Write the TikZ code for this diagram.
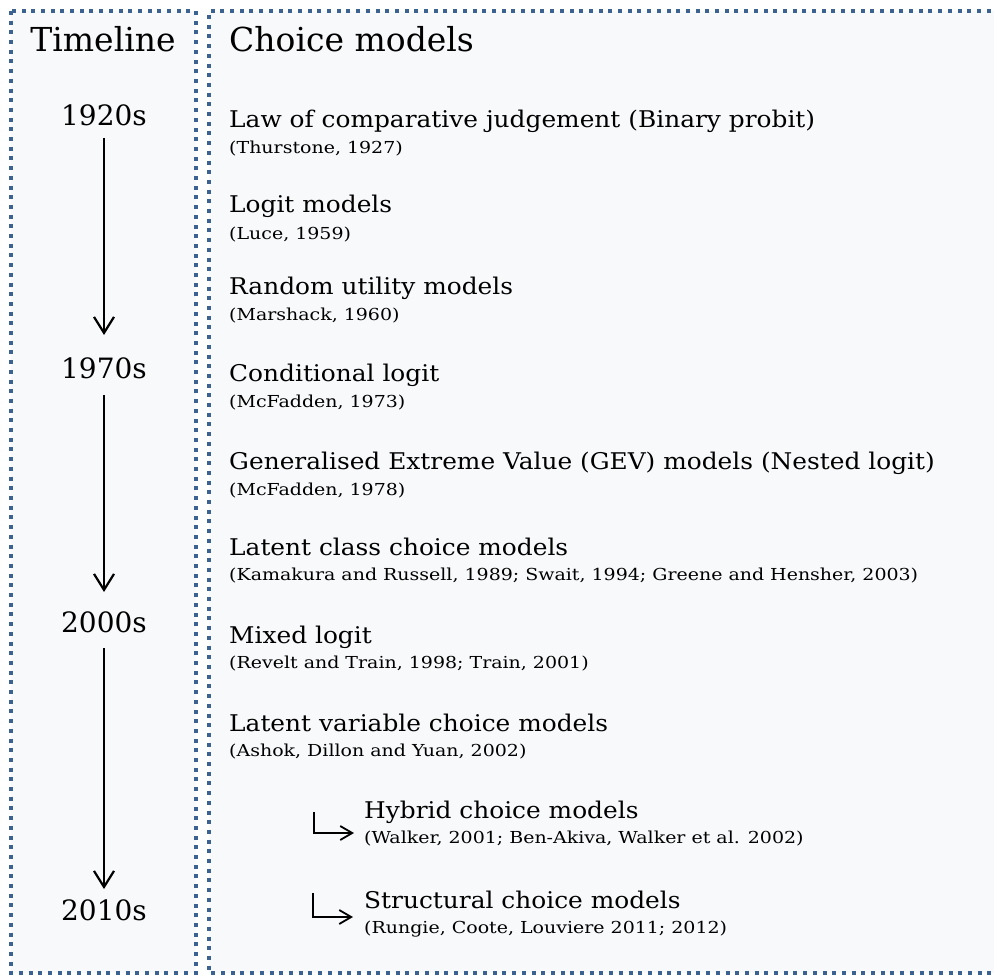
\documentclass[tikz,border=0pt]{standalone}
\usepackage{fontspec}
\setmainfont{DejaVu Serif}
\newfontfamily\itemfont[FakeStretch=1.08]{DejaVu Serif}
\newfontfamily\citefont[FakeStretch=1.15]{DejaVu Serif}
\usetikzlibrary{arrows.meta}
\definecolor{dotblue}{RGB}{60,98,146}
\definecolor{panel}{RGB}{248,249,251}
\begin{document}
\begin{tikzpicture}[x=1pt,y=-1pt,
 panelbox/.style={fill=panel,draw=dotblue,line width=4pt,dash pattern=on 4pt off 5.7pt},
 titletext/.style={font=\fontsize{33}{36}\selectfont,inner sep=0pt,anchor=base},
 yeartext/.style={font=\fontsize{28}{30}\selectfont,inner sep=0pt,anchor=base},
 itemtext/.style={font=\itemfont\fontsize{23}{26}\selectfont,inner sep=0pt,anchor=base west},
 citetext/.style={font=\citefont\fontsize{16.5}{19}\selectfont,inner sep=0pt,anchor=base west},
 timearrow/.style={line width=2.2pt,-{Straight Barb[length=16pt,width=20pt,line width=2.2pt]}},
 elbowarrow/.style={line width=1.8pt,-{Straight Barb[length=12pt,width=14pt,line width=1.8pt]}},
]
\useasboundingbox (0,0) rectangle (994,976);
\clip (0,0) rectangle (994,976);
\draw[panelbox] (11,11) rectangle (196,973);
\draw[panelbox] (1010,11) -- (209,11) -- (209,973) -- (1010,973);

\node[titletext] (tl) at (103,52) {Timeline};
\node[titletext,anchor=base west] (cm) at (229,52) {Choice models};

\node[yeartext] (y1920) at (104,126) {1920s};
\node[yeartext] (y1970) at (104,379) {1970s};
\node[yeartext] (y2000) at (104,632) {2000s};
\node[yeartext] (y2010) at (104,920) {2010s};

\draw[timearrow] ([yshift=-12pt]y1920.base) -- ([yshift=44pt]y1970.base);
\draw[timearrow] ([yshift=-16pt]y1970.base) -- ([yshift=40pt]y2000.base);
\draw[timearrow] ([yshift=-16pt]y2000.base) -- ([yshift=31pt]y2010.base);

\node[itemtext] (m1) at (229,128) {Law of comparative judgement (Binary probit)};
\node[citetext] (c1) at (229,154) {(Thurstone, 1927)};
\node[itemtext] (m2) at (229,213) {Logit models};
\node[citetext] (c2) at (229,240) {(Luce, 1959)};
\node[itemtext] (m3) at (229,295) {Random utility models};
\node[citetext] (c3) at (229,321) {(Marshack, 1960)};
\node[itemtext] (m4) at (229,382) {Conditional logit};
\node[citetext] (c4) at (229,408) {(McFadden, 1973)};
\node[itemtext] (m5) at (229,469) {Generalised Extreme Value (GEV) models (Nested logit)};
\node[citetext] (c5) at (229,495) {(McFadden, 1978)};
\node[itemtext] (m6) at (229,555) {Latent class choice models};
\node[citetext] (c6) at (229,580) {(Kamakura and Russell, 1989; Swait, 1994; Greene and Hensher, 2003)};
\node[itemtext] (m7) at (229,643) {Mixed logit};
\node[citetext] (c7) at (229,668) {(Revelt and Train, 1998; Train, 2001)};
\node[itemtext] (m8) at (229,731) {Latent variable choice models};
\node[citetext] (c8) at (229,756) {(Ashok, Dillon and Yuan, 2002)};
\node[itemtext] (m9) at (364,818) {Hybrid choice models};
\node[citetext] (c9) at (364,843) {(Walker, 2001; Ben-Akiva, Walker et al. 2002)};
\node[itemtext] (m10) at (364,908) {Structural choice models};
\node[citetext] (c10) at (364,933) {(Rungie, Coote, Louviere 2011; 2012)};

\draw[elbowarrow] ([xshift=-50pt,yshift=6pt]m9.base west) |- ([xshift=-10pt,yshift=-15pt]m9.base west);
\draw[elbowarrow] ([xshift=-51pt,yshift=15pt]m10.base west) |- ([xshift=-11pt,yshift=-9pt]m10.base west);
\end{tikzpicture}
\end{document}
